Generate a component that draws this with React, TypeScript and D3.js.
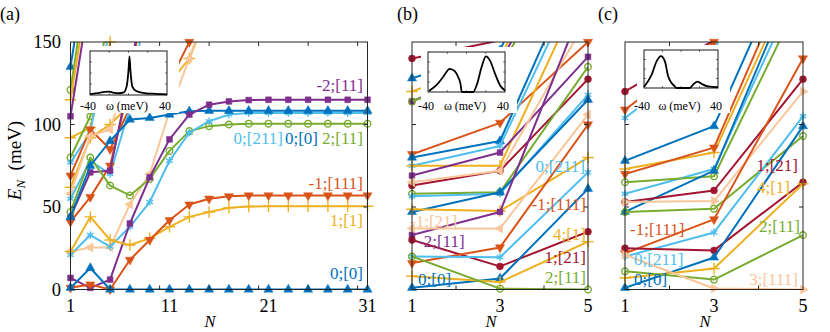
import React, { useEffect, useRef } from "react";
import * as d3 from "d3";

// MATLAB-like palette
const BLUE = "#0072BD";
const ORANGE = "#D95319";
const YELLOW = "#EDB120";
const PURPLE = "#7E2F8E";
const GREEN = "#77AC30";
const LBLUE = "#4DBEEE";
const DRED = "#A2142F";
const PEACH = "#F9C69A";

// ---------- panel (a): N = 1,3,...,31 ----------
const nA = [1, 3, 5, 7, 9, 11, 13, 15, 17, 19, 21, 23, 25, 27, 29, 31];
const a_blue0 = [1, 13, 0, 0, 0, 0, 0, 0, 0, 0, 0, 0, 0, 0, 0, 0];
const a_purple = [7, 1, 6, 40, 68, 91, 106, 112, 114, 114.8, 115, 115, 115, 115, 115, 115];
const a_orange = [1, 3, 0, 18, 30, 42, 51.5, 55, 56.5, 57, 57, 57, 57, 57, 57, 57];
const a_yellow = [23, 44, 30, 27, 31, 38, 44, 47, 49.5, 50.3, 50.5, 50.5, 50.5, 50.5, 50.5, 50.5];
const a_lblue = [21, 33, 26, 38, 53, 78, 95, 102, 106, 107, 107, 107, 107, 107, 107, 107];
const a_blueTop = [44, 75, 90, 103, 104, 106, 108, 108.3, 108.3, 108.3, 108.3, 108.3, 108.3, 108.3, 108.3, 108.3];
const a_green = [47, 80, 63, 57, 67, 84, 96, 99, 100, 100.5, 100.5, 100.5, 100.5, 100.5, 100.5, 100.5];
const a_peach = [23, 25.5, 25.5, 51.6, 70, 108, 140, 175];
// steep levels leaving the window at small N
const a_b1 = [135, 210];
const a_b2 = [121, 200];
const a_b3 = [115, 190];
const a_b4 = [105, 180];
const a_b5 = [92, 98, 150, 220];
const a_b6 = [80, 105, 170];
const a_b7 = [77, 95, 160];
const a_b8 = [69, 97, 85, 110, 116, 126, 150, 200];
const a_b9 = [62, 92, 100, 112, 118, 125, 140, 170];
const a_b10 = [58, 93, 97, 135, 190];
const a_b11 = [55, 78, 70, 110, 190];
const a_b12 = [41, 56, 75, 125, 200];
const a_b13 = [44, 71, 72, 130, 200];

// ---------- panels (b), (c): N = 1,3,5 ----------
const nBC = [1, 3, 5];
const b_s1 = [128, 145, 260];
const b_s2 = [120, 140, 250];
const b_s3 = [114, 137, 240];
const b_s4 = [114, 133, 235];
const b_s5 = [140, 151, 280];
const b_s6 = [82, 101, 150];
const b_s7 = [80, 90, 210];
const b_s8 = [75, 87, 200];
const b_s9 = [75, 75, 190];
const b_s10 = [69, 83, 141];
const b_s11 = [63, 72, 127.5];
const b_s12 = [65, 72, 165];
const b_s13 = [58, 59, 135];
const b_s14 = [56.5, 58, 118];
const b_s15 = [47, 59, 115];
const b_s16 = [48.6, 47.6, 80];
const b_s17 = [33, 47, 180];
const b_s18 = [37, 37, 106];
const b_s19 = [30, 14, 35];
const b_s20 = [16, 25.5, 100];
const b_s21 = [20, 19.5, 71];
const b_s22 = [1, 6.7, 61];
const b_s23 = [8, 4.5, 29];
const b_s24 = [20, 0.5, 0];

const c_s1 = [109, 150, 260];
const c_s2 = [104, 145, 250];
const c_s3 = [120, 151, 280];
const c_s4 = [78, 99, 220];
const c_s5 = [73, 83, 200];
const c_s6 = [70, 86, 210];
const c_s7 = [58, 73, 190];
const c_s8 = [65, 68.6, 180];
const c_s9 = [47, 72, 200];
const c_s10 = [53, 60, 127.5];
const c_s11 = [53, 53.6, 120];
const c_s12 = [47, 49, 93];
const c_s13 = [22, 42.5, 140];
const c_s14 = [20, 34.6, 105];
const c_s15 = [25, 23.7, 65];
const c_s16 = [1, 19.4, 99];
const c_s17 = [7, 12.7, 64];
const c_s18 = [11, 6, 33];
const c_s19 = [21, 0.6, 0];

// ---------- inset spectra (omega in meV, weight normalised to box) ----------
const inA_w = [-40, -30, -25, -20, -15, -10, -5, -2, 0, 1, 2, 4, 8, 15, 25, 40];
const inA_v = [0.02, 0.05, 0.07, 0.075, 0.05, 0.04, 0.06, 0.19, 0.56, 0.88, 0.56, 0.19, 0.09, 0.05, 0.03, 0.015];
const inB_w = [-39, -31.3, -24.3, -17.4, -12.2, -8.7, -6.3, -4.9, 7, 11.1, 15.7, 20.2, 24.3, 29.6, 34.8, 40];
const inB_v = [0.025, 0.17, 0.375, 0.58, 0.52, 0.375, 0.21, 0, 0, 0.21, 0.625, 0.89, 0.79, 0.46, 0.17, 0.04];
const inC_w = [-40, -31.7, -26.4, -21.7, -17.4, -13.8, -10.2, -7.4, -4.8, 9.5, 13.1, 17.8, 22.1, 29.2, 40];
const inC_v = [0.026, 0.35, 0.7, 0.84, 0.7, 0.3, 0.13, 0.06, 0, 0, 0.09, 0.17, 0.11, 0.04, 0.02];

type Series = { v: number[]; c: string; m: string };
type Label = { t: string; c: string; x: number; y: number; a: string };

const seriesA: Series[] = [
  { v: a_b1, c: BLUE, m: "^" },
  { v: a_b2, c: GREEN, m: "o" },
  { v: a_b3, c: YELLOW, m: "+" },
  { v: a_b4, c: PURPLE, m: "s" },
  { v: a_b5, c: YELLOW, m: "+" },
  { v: a_b6, c: GREEN, m: "o" },
  { v: a_b7, c: LBLUE, m: "*" },
  { v: a_b8, c: ORANGE, m: "v" },
  { v: a_b9, c: YELLOW, m: "+" },
  { v: a_b10, c: PEACH, m: "<" },
  { v: a_b11, c: LBLUE, m: "*" },
  { v: a_b12, c: ORANGE, m: "v" },
  { v: a_b13, c: PURPLE, m: "s" },
  { v: a_peach, c: PEACH, m: "<" },
  { v: a_green, c: GREEN, m: "o" },
  { v: a_lblue, c: LBLUE, m: "*" },
  { v: a_blueTop, c: BLUE, m: "^" },
  { v: a_purple, c: PURPLE, m: "s" },
  { v: a_yellow, c: YELLOW, m: "+" },
  { v: a_orange, c: ORANGE, m: "v" },
  { v: a_blue0, c: BLUE, m: "^" },
];

const seriesB: Series[] = [
  { v: b_s1, c: BLUE, m: "^" },
  { v: b_s2, c: YELLOW, m: "+" },
  { v: b_s3, c: PURPLE, m: "s" },
  { v: b_s4, c: GREEN, m: "o" },
  { v: b_s5, c: DRED, m: "." },
  { v: b_s6, c: ORANGE, m: "v" },
  { v: b_s7, c: BLUE, m: "^" },
  { v: b_s8, c: LBLUE, m: "*" },
  { v: b_s9, c: YELLOW, m: "+" },
  { v: b_s10, c: PURPLE, m: "s" },
  { v: b_s11, c: DRED, m: "." },
  { v: b_s12, c: PEACH, m: "<" },
  { v: b_s13, c: GREEN, m: "o" },
  { v: b_s14, c: LBLUE, m: "*" },
  { v: b_s15, c: BLUE, m: "^" },
  { v: b_s16, c: YELLOW, m: "+" },
  { v: b_s17, c: PURPLE, m: "s" },
  { v: b_s18, c: PEACH, m: "<" },
  { v: b_s19, c: DRED, m: "." },
  { v: b_s20, c: ORANGE, m: "v" },
  { v: b_s21, c: LBLUE, m: "*" },
  { v: b_s22, c: BLUE, m: "^" },
  { v: b_s23, c: YELLOW, m: "+" },
  { v: b_s24, c: GREEN, m: "o" },
];

const seriesC: Series[] = [
  { v: c_s1, c: ORANGE, m: "v" },
  { v: c_s2, c: LBLUE, m: "*" },
  { v: c_s3, c: DRED, m: "." },
  { v: c_s4, c: BLUE, m: "^" },
  { v: c_s5, c: YELLOW, m: "+" },
  { v: c_s6, c: ORANGE, m: "v" },
  { v: c_s7, c: LBLUE, m: "*" },
  { v: c_s8, c: GREEN, m: "o" },
  { v: c_s9, c: BLUE, m: "^" },
  { v: c_s10, c: DRED, m: "." },
  { v: c_s11, c: PEACH, m: ">" },
  { v: c_s12, c: GREEN, m: "o" },
  { v: c_s13, c: ORANGE, m: "v" },
  { v: c_s14, c: LBLUE, m: "*" },
  { v: c_s15, c: DRED, m: "." },
  { v: c_s16, c: BLUE, m: "^" },
  { v: c_s17, c: YELLOW, m: "+" },
  { v: c_s18, c: GREEN, m: "o" },
  { v: c_s19, c: PEACH, m: ">" },
];

const labelsA: Label[] = [
  { t: "-2;[11]", c: PURPLE, x: 363, y: 91, a: "end" },
  { t: "0;[211]", c: LBLUE, x: 283, y: 144, a: "end" },
  { t: "0;[0]", c: BLUE, x: 318, y: 144, a: "end" },
  { t: "2;[11]", c: GREEN, x: 363, y: 144, a: "end" },
  { t: "-1;[111]", c: ORANGE, x: 363, y: 189, a: "end" },
  { t: "1;[1]", c: YELLOW, x: 363, y: 226, a: "end" },
  { t: "0;[0]", c: BLUE, x: 363, y: 279, a: "end" },
];
const labelsB: Label[] = [
  { t: "-1;[21]", c: PEACH, x: 410, y: 227, a: "start" },
  { t: "-2;[11]", c: PURPLE, x: 418, y: 247, a: "start" },
  { t: "0;[0]", c: BLUE, x: 418, y: 285, a: "start" },
  { t: "0;[211]", c: LBLUE, x: 585, y: 172, a: "end" },
  { t: "-1;[111]", c: ORANGE, x: 586, y: 210, a: "end" },
  { t: "4;[1]", c: YELLOW, x: 586, y: 240, a: "end" },
  { t: "1;[21]", c: DRED, x: 586, y: 263, a: "end" },
  { t: "2;[11]", c: GREEN, x: 586, y: 283, a: "end" },
];
const labelsC: Label[] = [
  { t: "-1;[111]", c: ORANGE, x: 630, y: 235, a: "start" },
  { t: "0;[211]", c: LBLUE, x: 634, y: 265, a: "start" },
  { t: "0;[0]", c: BLUE, x: 634, y: 285, a: "start" },
  { t: "1;[21]", c: DRED, x: 798, y: 171, a: "end" },
  { t: "4;[1]", c: YELLOW, x: 790, y: 193, a: "end" },
  { t: "2;[11]", c: GREEN, x: 800, y: 232, a: "end" },
  { t: "3;[111]", c: PEACH, x: 798, y: 285, a: "end" },
];

const FONT = "Liberation Serif, Tinos, Times New Roman, Times, DejaVu Serif, Noto Serif, serif";
const AXIS = "#262626";

const markerPath = (m: string) => {
  if (m === "^" || m === "v" || m === "<" || m === ">") return d3.symbol(d3.symbolTriangle, 36)();
  if (m === "s") return d3.symbol(d3.symbolSquare, 34)();
  if (m === "o") return d3.symbol(d3.symbolCircle, 34)();
  if (m === ".") return d3.symbol(d3.symbolCircle, 38)();
  if (m === "+") return d3.symbol(d3.symbolPlus, 45)();
  return d3.symbol(d3.symbolAsterisk, 40)();
};
const markerRot: Record<string, number> = { "^": 0, v: 180, "<": -90, ">": 90 };
const stroked = (m: string) => m === "o" || m === "+" || m === "*";

type PanelCfg = {
  id: string;
  x0: number;
  x1: number;
  dom: [number, number];
  n: number[];
  series: Series[];
  xTicks: number[];
  xLabels: number[];
  yLabels: boolean;
  inset: { x0: number; x1: number; y0: number; y1: number; w: number[]; v: number[] };
  labels: Label[];
  tag: string;
  tagX: number;
};

const panels: PanelCfg[] = [
  {
    id: "a", x0: 70.5, x1: 367.5, dom: [1, 31], n: nA, series: seriesA,
    xTicks: [5, 10, 15, 20, 25, 30], xLabels: [1, 11, 21, 31], yLabels: true,
    inset: { x0: 90, x1: 167, y0: 51, y1: 95, w: inA_w, v: inA_v },
    labels: labelsA, tag: "(a)", tagX: 0,
  },
  {
    id: "b", x0: 412, x1: 588, dom: [1, 5], n: nBC, series: seriesB,
    xTicks: [2, 4], xLabels: [1, 3, 5], yLabels: false,
    inset: { x0: 428, x1: 505, y0: 52, y1: 92, w: inB_w, v: inB_v },
    labels: labelsB, tag: "(b)", tagX: 397,
  },
  {
    id: "c", x0: 625, x1: 803, dom: [1, 5], n: nBC, series: seriesC,
    xTicks: [2, 4], xLabels: [1, 3, 5], yLabels: false,
    inset: { x0: 644, x1: 718, y0: 50, y1: 88, w: inC_w, v: inC_v },
    labels: labelsC, tag: "(c)", tagX: 598,
  },
];

const App = () => {
  const ref = useRef<SVGSVGElement>(null);

  useEffect(() => {
    const svg = d3.select(ref.current);
    svg.selectAll("*").remove();
    const y = d3.scaleLinear().domain([0, 150]).range([289.5, 42]);
    const defs = svg.append("defs");

    const txt = (parent: any, size: number) =>
      parent.append("text").attr("font-family", FONT).attr("font-size", size).attr("fill", "#000");

    panels.forEach((p) => {
      const x = d3.scaleLinear().domain(p.dom).range([p.x0, p.x1]);
      const g = svg.append("g");

      defs.append("clipPath").attr("id", "clip-" + p.id)
        .append("rect")
        .attr("x", p.x0).attr("y", y(150))
        .attr("width", p.x1 - p.x0).attr("height", y(0) - y(150));

      const line = d3.line<[number, number]>()
        .x((d) => x(d[0]))
        .y((d) => y(d[1]));

      // data series
      p.series.forEach((s) => {
        const pts: [number, number][] = s.v.map((v, i) => [p.n[i], v]);
        g.append("path")
          .attr("d", line(pts))
          .attr("clip-path", `url(#clip-${p.id})`)
          .attr("fill", "none")
          .attr("stroke", s.c)
          .attr("stroke-width", 2)
          .attr("stroke-linejoin", "round");
        const d = markerPath(s.m);
        pts.filter((q) => q[1] <= 150.5).forEach((q) => {
          g.append("path")
            .attr("d", d)
            .attr("transform", `translate(${x(q[0])},${y(q[1])}) rotate(${markerRot[s.m] || 0})`)
            .attr("fill", stroked(s.m) ? "none" : s.c)
            .attr("stroke", s.c)
            .attr("stroke-width", stroked(s.m) ? 1.4 : 0.5);
        });
      });

      // inset
      const ins = p.inset;
      g.append("rect")
        .attr("x", ins.x0 - 7).attr("y", ins.y0 - 5)
        .attr("width", ins.x1 - ins.x0 + 19).attr("height", 113 - ins.y0 + 5)
        .attr("fill", "#fff");
      const ix = d3.scaleLinear().domain([-40, 40]).range([ins.x0, ins.x1]);
      const iy = d3.scaleLinear().domain([0, 1]).range([ins.y1, ins.y0]);
      const ig = g.append("g");
      [-20, 0, 20].forEach((t) => {
        ig.append("line").attr("x1", ix(t)).attr("x2", ix(t)).attr("y1", ins.y1).attr("y2", ins.y1 - 2).attr("stroke", AXIS).attr("stroke-width", 0.6);
        ig.append("line").attr("x1", ix(t)).attr("x2", ix(t)).attr("y1", ins.y0).attr("y2", ins.y0 + 2).attr("stroke", AXIS).attr("stroke-width", 0.6);
      });
      [0.25, 0.5, 0.75].forEach((t) => {
        ig.append("line").attr("x1", ins.x0).attr("x2", ins.x0 + 2).attr("y1", iy(t)).attr("y2", iy(t)).attr("stroke", AXIS).attr("stroke-width", 0.6);
        ig.append("line").attr("x1", ins.x1).attr("x2", ins.x1 - 2).attr("y1", iy(t)).attr("y2", iy(t)).attr("stroke", AXIS).attr("stroke-width", 0.6);
      });
      const iline = d3.line<number>()
        .x((_, i) => ix(ins.w[i]))
        .y((v) => iy(v))
        .curve(d3.curveMonotoneX);
      ig.append("path").attr("d", iline(ins.v)).attr("fill", "none").attr("stroke", "#000").attr("stroke-width", 1.8);
      ig.append("rect").attr("x", ins.x0).attr("y", ins.y0)
        .attr("width", ins.x1 - ins.x0).attr("height", ins.y1 - ins.y0)
        .attr("fill", "none").attr("stroke", "#000").attr("stroke-width", 0.9);
      const itxt = (t: string, xx: number) =>
        txt(ig, 12).attr("x", xx).attr("y", 109.5).attr("text-anchor", "middle").text(t);
      itxt("-40", ins.x0 - 2);
      itxt("ω (meV)", (ins.x0 + ins.x1) / 2 - 1.5);
      itxt("40", ins.x1 - 2);

      // text annotations
      p.labels.forEach((l) => {
        txt(g, 17).attr("x", l.x).attr("y", l.y).attr("text-anchor", l.a).attr("fill", l.c).text(l.t);
      });

      // frame and inward ticks
      const ax = svg.append("g").attr("stroke", AXIS).attr("stroke-width", 1);
      ax.append("rect").attr("x", p.x0).attr("y", y(150))
        .attr("width", p.x1 - p.x0).attr("height", y(0) - y(150)).attr("fill", "none");
      p.xTicks.forEach((t) => {
        ax.append("line").attr("x1", x(t)).attr("x2", x(t)).attr("y1", y(0)).attr("y2", y(0) - 4);
        ax.append("line").attr("x1", x(t)).attr("x2", x(t)).attr("y1", y(150)).attr("y2", y(150) + 4);
      });
      [50, 100].forEach((t) => {
        ax.append("line").attr("x1", p.x0).attr("x2", p.x0 + 4).attr("y1", y(t)).attr("y2", y(t));
        ax.append("line").attr("x1", p.x1).attr("x2", p.x1 - 4).attr("y1", y(t)).attr("y2", y(t));
      });

      p.xLabels.forEach((t) => {
        txt(svg, 18).attr("x", x(t)).attr("y", 311.5).attr("text-anchor", "middle").text(t);
      });
      if (p.yLabels) {
        [0, 50, 100, 150].forEach((t) => {
          txt(svg, 18.5).attr("x", 61).attr("y", y(t) + 6).attr("text-anchor", "end").text(t);
        });
      }
      txt(svg, 16.5).attr("x", (p.x0 + p.x1) / 2 - 9).attr("y", 327).attr("text-anchor", "middle")
        .attr("font-style", "italic").text("N");
      txt(svg, 18).attr("x", p.tagX).attr("y", 20).text(p.tag);
    });

    // y axis title
    const yt = txt(svg, 19)
      .attr("transform", "translate(21,160.5) rotate(-90)")
      .attr("text-anchor", "middle");
    yt.append("tspan").attr("font-style", "italic").text("E");
    yt.append("tspan").attr("font-style", "italic").attr("font-size", 13).attr("dy", 4).text("N");
    yt.append("tspan").attr("dy", -4).text("\u00a0\u00a0(meV)");
  }, []);

  return (
    <svg
      ref={ref}
      width={830}
      height={332}
      style={{ position: "absolute", left: 0, top: 0, background: "#fff" }}
    />
  );
};

export default App;
